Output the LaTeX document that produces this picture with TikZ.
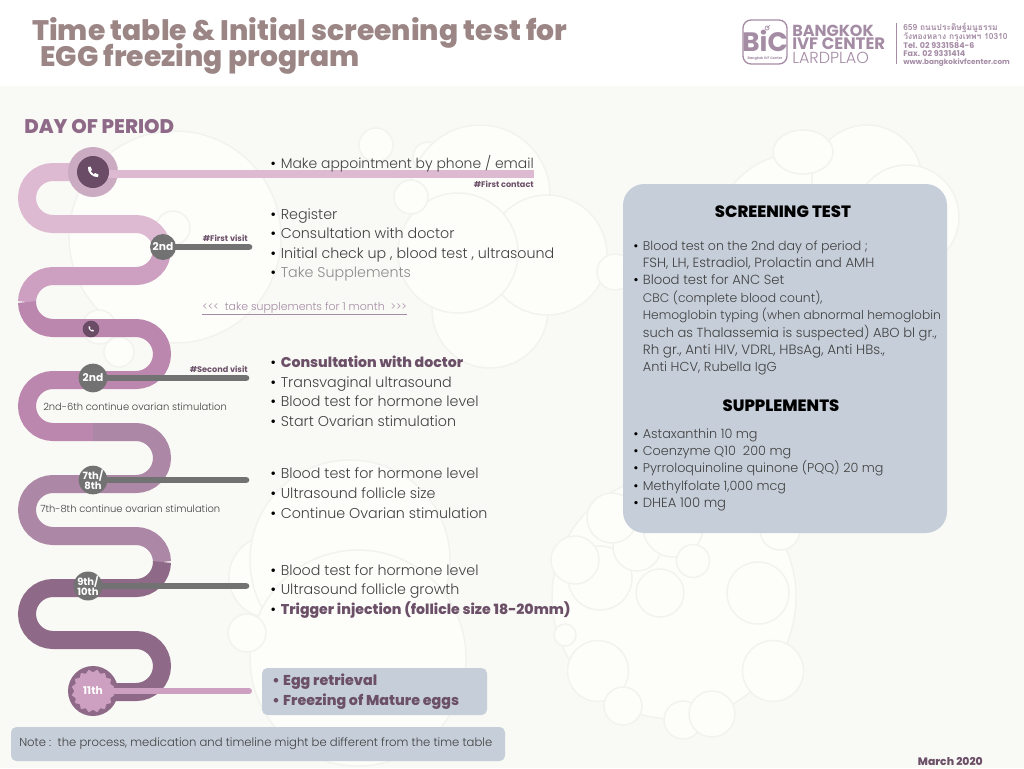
\documentclass[tikz,border=0pt]{standalone}
\usepackage{fontspec}
\usetikzlibrary{shapes.geometric}
\setmainfont{Poppins}
\newfontfamily\lt{Poppins Light}
\newfontfamily\xb{Poppins ExtraBold}
\newfontfamily\thaifont[Script=Thai]{Loma}
\definecolor{bgc}{HTML}{F9F9F5}
\definecolor{bub}{HTML}{FDFDFA}
\definecolor{bubl}{HTML}{F2F2EE}
\definecolor{boxc}{HTML}{C6CED9}
\definecolor{segA}{HTML}{DDBAD2}
\definecolor{segB}{HTML}{CDA0C1}
\definecolor{segC}{HTML}{BB87AE}
\definecolor{segD}{HTML}{AD88A6}
\definecolor{segE}{HTML}{8E6A88}
\definecolor{dark}{HTML}{6B4C66}
\definecolor{grayb}{HTML}{727272}
\definecolor{boldt}{HTML}{6B5068}
\definecolor{txt}{HTML}{414141}
\definecolor{title}{HTML}{9B8585}
\definecolor{logoc}{HTML}{A58CA5}
\newcommand{\fs}[1]{\fontsize{#1}{#1}\selectfont}
\newcommand{\bl}{\makebox[7.9pt][l]{\rmfamily\color{black}•}}
\newcommand{\sbl}{\makebox[7.2pt][l]{\rmfamily\color{black}•}}
\def\LA{.. controls +(-14.4,0) and +(0,-14.4) .. ++(-26,26) .. controls +(0,14.4) and +(-14.4,0) .. ++(26,26)}
\def\RA{.. controls +(14.4,0) and +(0,-14.4) .. ++(26,26) .. controls +(0,14.4) and +(14.4,0) .. ++(-26,26)}
\tikzset{
  bubble/.style={draw=bubl,fill=bub,line width=1.1pt},
  band/.style={line width=13.5pt,line cap=butt},
  itemline/.style={anchor=base west,inner sep=0pt,font=\lt\fs{10.7},text=txt},
  boldline/.style={anchor=base west,inner sep=0pt,font=\xb\fs{10.6},text=boldt},
  smallline/.style={anchor=base west,inner sep=0pt,font=\lt,text=txt},
  visit/.style={anchor=base east,inner sep=0pt,font=\bfseries\fs{6.1},text=boldt},
  grayday/.style={circle,fill=grayb,inner sep=0pt,text=white,font=\bfseries\fs{8},align=center},
  graybar/.style={line width=5pt,line cap=round,draw=grayb},
  stim/.style={anchor=base west,inner sep=0pt,font=\lt\fs{7.45},text=txt},
  addr/.style={anchor=base west,inner sep=0pt,font=\bfseries\fs{6},text=logoc},
}
\newcommand{\handset}[3]{%
  \fill[white,shift={(#1,#2)},scale=#3]
    (-5,-5) -- (-2.5,-5.5) -- (-1,-2) -- (-2.5,-0.8)
    .. controls (-1.8,0.8) and (-0.8,1.8) .. (0.8,2.5)
    -- (2,1) -- (5.5,2.5) -- (5,5)
    .. controls (0,6) and (-6,0) .. (-5,-5) -- cycle;}
\begin{document}
\begin{tikzpicture}[x=0.75pt,y=-0.75pt]
\useasboundingbox (0,0) rectangle (1024,768);
\clip (0,0) rectangle (1024,768);
\fill[white] (0,0) rectangle (1024,86);
\fill[bgc] (0,86) rectangle (1024,768);
% background bubbles
\foreach \x/\y/\r in {
 175/237/106, 270/577/41, 350/560/100, 358/658/108, 247/633/19,
 119/352/15, 99/327/17, 173/228/17, 376/145/17, 428/157/15, 480/195/70,
 490/310/58, 547/255/60, 615/272/18, 458/253/60, 411/197/17,
 800/240/87, 867/180/55, 907/217/52, 674/597/122, 600/578/32, 637/547/24, 673/527/30,
 612/518/25, 575/560/24, 693/561/16.5, 660/593/24, 758/593/31, 773/671/30.5,
 598/671/30.5, 623/706/19, 683/720/19, 712/714/23, 565/635/11, 780/530/20}
 {\draw[bubble] (\x,\y) circle[radius=\r*0.75pt];}
\draw[bubble] (803,152) ellipse[x radius=22.5pt,y radius=16.5pt];
% title
\node[anchor=base west,inner sep=0pt,font=\xb\fs{21.15},text=title] (t1) at (32,40) {Time table \& Initial screening test for};
\node[anchor=base west,inner sep=0pt,font=\xb\fs{21.15},text=title] (t2) at (40,66) {EGG freezing program};
\node[anchor=base west,inner sep=0pt,font=\xb\fs{14.8},text=segE] (dop) at (24,133) {DAY OF PERIOD};
% logo
\draw[logoc,line width=1pt,rounded corners=6pt] (743,20) rectangle (787,64);
\node[inner sep=0pt,font=\bfseries\fs{20},text=logoc] (bic) at (765,41) {BiC};
\node[inner sep=0pt,font=\bfseries\fs{2.6},text=logoc] (bics) at (765,59) {Bangkok IVF Center};
\draw[logoc,line width=.5pt] (767,28) circle[radius=1.5pt] -- ++(3,-3);
\node[anchor=base west,inner sep=0pt,font=\bfseries\fs{12},text=logoc] (l1) at (792,36) {BANGKOK};
\node[anchor=base west,inner sep=0pt,font=\bfseries\fs{12.4},text=logoc] (l2) at (792,49) {IVF CENTER};
\node[anchor=base west,inner sep=0pt,font=\lt\fs{12},text=logoc] (l3) at (792,63) {LARDPLAO};
\draw[logoc,line width=.6pt] (896,23) -- (896,64);
\node[addr,font=\bfseries\fs{6.3}] (a1) at (903,30) {\thaifont 659 ถนนประดิษฐ์มนูธรรม};
\node[addr,font=\bfseries\fs{6.3}] (a2) at (903,39) {\thaifont วังทองหลาง กรุงเทพฯ 10310};
\node[addr] (a3) at (903,48) {Tel.  02 9331584-6};
\node[addr] (a4) at (903,56) {Fax. 02 9331414};
\node[addr,font=\bfseries\fs{5.45}] (a5) at (903,64) {www.bangkokivfcenter.com};
% serpentine
\draw[band,segA] (93,172) -- (53,172) \LA -- (136,224) .. controls +(14.4,0) and +(0,-14.4) .. (162,250);
\draw[band,segB] (162,250) .. controls +(0,14.4) and +(14.4,0) .. (136,276) -- (53,276) .. controls +(-14.4,0) and +(0,-14.4) .. (27,302);
\draw[band,segC] (27,302) .. controls +(0,14.4) and +(-14.4,0) .. (53,328) -- (136,328) \RA -- (53,380) \LA -- (93,432);
\draw[band,segD] (93,432) -- (136,432) \RA -- (53,484) \LA -- (136,536) .. controls +(14.4,0) and +(0,-14.4) .. (162,562);
\draw[band,segE] (162,562) .. controls +(0,14.4) and +(14.4,0) .. (136,588) -- (53,588) \LA -- (136,640) \RA -- (93,692);
% first contact
\node[circle,fill=segA!92!black,minimum size=37.5pt,inner sep=0pt] (n0) at (93,172) {};
\coordinate (e0) at (534,174);
\draw[line width=6pt,draw=segA] (n0.center |- e0) -- (e0);
\node[circle,fill=dark,minimum size=24pt,inner sep=0pt] (n0i) at (93,172) {};
\handset{93}{172}{1}
\node[visit] (v0) at (534,187) {\#First contact};
% 2nd first visit
\coordinate (c1) at (163,247);
\coordinate (e1) at (249,247);
\draw[graybar] (c1) -- (e1);
\node[grayday,minimum size=19.5pt] (n1) at (c1) {2nd};
\node[visit] (v1) at (248,241) {\#First visit};
% small phone
\node[circle,fill=dark,minimum size=12.5pt,inner sep=0pt] (n2) at (91,329) {};
\handset{91}{329}{0.5}
% 2nd second visit
\coordinate (c3) at (93,378);
\coordinate (e3) at (246,378);
\draw[graybar] (c3) -- (e3);
\node[grayday,minimum size=21.5pt] (n3) at (c3) {2nd};
\node[visit] (v3) at (248,372) {\#Second visit};
% 7th
\coordinate (c4) at (93,480);
\coordinate (e4) at (246,480);
\draw[graybar] (c4) -- (e4);
\node[grayday,minimum size=21.5pt,font=\bfseries\fs{7.5}] (n4) at (c4) {\baselineskip=7.5pt 7th/\\8th};
% 9th
\coordinate (c5) at (88,586);
\coordinate (e5) at (246,586);
\draw[graybar] (c5) -- (e5);
\node[grayday,minimum size=21.5pt,font=\bfseries\fs{7.5}] (n5) at (c5) {\baselineskip=8pt 9th/\\10th};
% 11th
\node[circle,fill=segE,minimum size=37.5pt,inner sep=0pt] (n6) at (93,691) {};
\node[star,star points=16,star point ratio=0.86,fill=segB,minimum size=28pt,inner sep=0pt] (n6s) at (93,691) {};
\coordinate (e6) at (249,691);
\draw[line width=4.5pt,line cap=round,draw=segB] (n6.center) -- (e6);
\node[inner sep=0pt,font=\bfseries\fs{8},text=white] (n6t) at (93,691) {11th};
% stim labels
\node[stim] (s1) at (43,410) {2nd-6th continue ovarian stimulation};
\node[stim] (s2) at (40,512) {7th-8th continue ovarian stimulation};
% timeline text
\node[itemline,font=\lt\fs{10.45}] (i01) at (270,168) {\bl Make appointment by phone / email};
\node[itemline] (i11) at (270,219) {\bl Register};
\node[itemline] (i12) at (270,238) {\bl Consultation with doctor};
\node[itemline] (i13) at (270,258) {\bl Initial check up , blood test , ultrasound};
\node[itemline,text=black!45] (i14) at (270,277) {\bl Take Supplements};
\node[anchor=base west,inner sep=0pt,font=\lt\fs{8.2},text=logoc] (sup) at (202,310) {\underline{<<<~~take supplements for 1 month~~>>>}};
\node[boldline] (i21) at (270,367) {\bl Consultation with doctor};
\node[itemline] (i22) at (270,387) {\bl Transvaginal ultrasound};
\node[itemline] (i23) at (270,406) {\bl Blood test for hormone level};
\node[itemline] (i24) at (270,426) {\bl Start Ovarian stimulation};
\node[itemline] (i31) at (270,478) {\bl Blood test for hormone level};
\node[itemline] (i32) at (270,498) {\bl Ultrasound follicle size};
\node[itemline] (i33) at (270,518) {\bl Continue Ovarian stimulation};
\node[itemline] (i41) at (270,575) {\bl Blood test for hormone level};
\node[itemline] (i42) at (270,594) {\bl Ultrasound follicle growth};
\node[boldline] (i43) at (270,614) {\bl Trigger injection (follicle size 18-20mm)};
% egg box
\fill[boxc,rounded corners=4pt] (262,668) rectangle (487,715);
\node[boldline,font=\xb\fs{10.7}] (e1t) at (272,685) {\makebox[8.2pt][l]{•}Egg retrieval};
\node[boldline,font=\xb\fs{10.7}] (e2t) at (272,705) {\makebox[8.2pt][l]{•}Freezing of Mature eggs};
% note box
\fill[boxc,rounded corners=4pt] (11,727) rectangle (505,761);
\node[anchor=base west,inner sep=0pt,font=\lt\fs{8.7},text=txt] (note) at (19,746) {Note :~~the process, medication and timeline might be different from the time table};
% screening box
\fill[boxc,rounded corners=16pt] (623,184) rectangle (947,533);
\node[inner sep=0pt,font=\xb\fs{12.3},text=black] (h1) at (783,212) {SCREENING TEST};
\node[inner sep=0pt,font=\xb\fs{12.3},text=black] (h2) at (781,406) {SUPPLEMENTS};
\foreach \nm/\y/\sz/\t in {
 a/250/9.43/{\sbl Blood test on the 2nd day of period ;},
 b/267/10/{\phantom{\sbl}FSH, LH, Estradiol, Prolactin and AMH},
 c/284/9.9/{\sbl Blood test for ANC Set},
 d/302/9.3/{\phantom{\sbl}CBC (complete blood count),},
 e/319/9.2/{\phantom{\sbl}Hemoglobin typing (when abnormal hemoglobin},
 f/337/9.8/{\phantom{\sbl}such as Thalassemia is suspected) ABO bl gr.,},
 g/354/10.1/{\phantom{\sbl}Rh gr., Anti HIV, VDRL, HBsAg, Anti HBs.,},
 h/371/9.75/{\phantom{\sbl}Anti HCV, Rubella IgG},
 i/438/9.6/{\sbl Astaxanthin 10 mg},
 j/455/9.6/{\sbl Coenzyme Q10~~200 mg},
 k/472/9.55/{\sbl Pyrroloquinoline quinone (PQQ) 20 mg},
 l/490/9.55/{\sbl Methylfolate 1,000 mcg},
 m/507/9.9/{\sbl DHEA 100 mg}}
 {\node[smallline] (sc\nm) at (633,\y) {\fs{\sz}\t};}
\node[anchor=base east,inner sep=0pt,font=\xb\fs{8.1},text=boldt] (mar) at (983,765) {March 2020};
\end{tikzpicture}
\end{document}
